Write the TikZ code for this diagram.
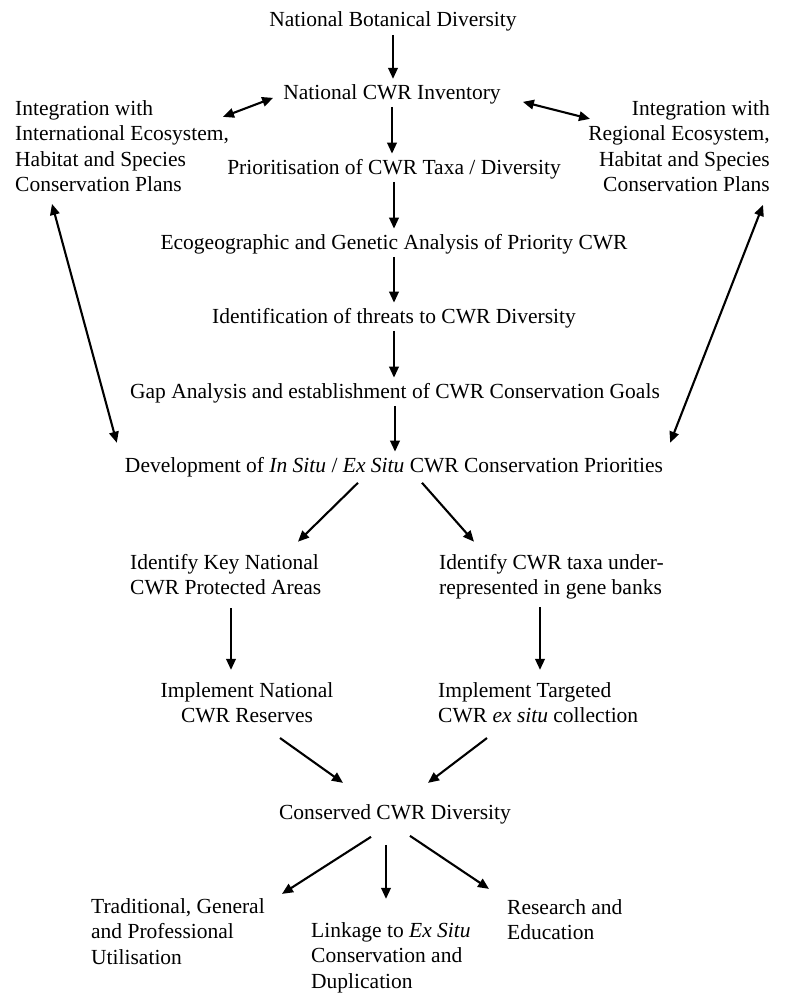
\documentclass[tikz,border=0pt]{standalone}
\usepackage{fontspec}
\setmainfont{Liberation Serif}
\usetikzlibrary{arrows.meta}
\begin{document}
\begin{tikzpicture}[x=1pt,y=-1pt,
  lbl/.style={inner sep=0pt, font=\fontsize{21.5}{25.5}\selectfont},
  arr/.style={line width=2.1pt, -{Triangle[length=11pt,width=9.5pt]}},
  darr/.style={line width=2.1pt, {Triangle[length=11pt,width=9.5pt]}-{Triangle[length=11pt,width=9.5pt]}},
  vstep/.style={arr, shorten <=3pt, shorten >=5pt}]
\useasboundingbox (0,0) rectangle (789,993);

\node[lbl,anchor=base] (nbd) at (393,27) {National Botanical Diversity};
\node[lbl,anchor=base] (inv) at (392,99) {National CWR Inventory};
\node[lbl,anchor=base west,align=left] (intl) at (15,191.5) {Integration with\\International Ecosystem,\\Habitat and Species\\Conservation Plans};
\node[lbl,anchor=base east,align=right] (intr) at (770,191.5) {Integration with\\Regional Ecosystem,\\Habitat and Species\\Conservation Plans};
\node[lbl,anchor=base] (prio) at (394,174) {Prioritisation of CWR Taxa / Diversity};
\node[lbl,anchor=base] (eco) at (394,249) {Ecogeographic and Genetic Analysis of Priority CWR};
\node[lbl,anchor=base] (thr) at (394,323) {Identification of threats to CWR Diversity};
\node[lbl,anchor=base] (gap) at (395,398) {Gap Analysis and establishment of CWR Conservation Goals};
\node[lbl,anchor=base] (dev) at (394,472) {Development of \textit{In Situ} / \textit{Ex Situ} CWR Conservation Priorities};
\node[lbl,anchor=base west,align=left] (ika) at (130,594.5) {Identify Key National\\CWR Protected Areas};
\node[lbl,anchor=base west,align=left] (ict) at (439,594.5) {Identify CWR taxa under-\\represented in gene banks};
\node[lbl,anchor=base,align=center] (imn) at (247,722.5) {Implement National\\CWR Reserves};
\node[lbl,anchor=base west,align=left] (itg) at (438,722.5) {Implement Targeted\\CWR \textit{ex situ} collection};
\node[lbl,anchor=base] (cons) at (395,819) {Conserved CWR Diversity};
\node[lbl,anchor=base west,align=left] (trad) at (91,964) {Traditional, General\\and Professional\\Utilisation};
\node[lbl,anchor=base west,align=left] (link) at (311,988) {Linkage to \textit{Ex Situ}\\Conservation and\\Duplication};
\node[lbl,anchor=base west,align=left] (res) at (507,939.5) {Research and\\Education};

% main chain
\draw[vstep] (nbd.south) -- (nbd.south |- inv.north);
\draw[vstep] (inv.south) -- (inv.south |- prio.north);
\draw[vstep] (prio.south) -- (prio.south |- eco.north);
\draw[vstep] (eco.south) -- (eco.south |- thr.north);
\draw[vstep] (thr.south) -- (thr.south |- gap.north);
\draw[vstep] (gap.south) -- (gap.south |- dev.north);

% integration links
\draw[darr] ([xshift=208pt,yshift=-17pt]intl.north west) -- ([xshift=-10pt,yshift=-4pt]inv.west);
\draw[darr] ([xshift=22pt,yshift=-8pt]inv.east) -- ([xshift=-180pt,yshift=-19pt]intr.north east);
\draw[darr] ([xshift=37pt,yshift=-12pt]intl.south west) -- ([xshift=-8pt,yshift=24pt]dev.west);
\draw[darr] ([xshift=-7pt,yshift=-13pt]intr.south east) -- ([xshift=7pt,yshift=24pt]dev.east);

% branches
\draw[arr] ([xshift=-36pt,yshift=-6pt]dev.south) -- ([xshift=168pt,yshift=12pt]ika.north west);
\draw[arr] ([xshift=28pt,yshift=-6pt]dev.south) -- ([xshift=35pt,yshift=12pt]ict.north west);
\draw[arr] ([xshift=101pt,yshift=-13pt]ika.south west) -- ([xshift=-16pt,yshift=12pt]imn.north);
\draw[arr] ([xshift=101pt,yshift=-8pt]ict.south west) -- ([xshift=102pt,yshift=12pt]itg.north west);
\draw[arr] ([xshift=33pt,yshift=-15pt]imn.south) -- ([xshift=-52pt,yshift=21pt]cons.north);
\draw[arr] ([xshift=49pt,yshift=-15pt]itg.south west) -- ([xshift=33pt,yshift=21pt]cons.north);

% outcomes
\draw[arr] ([xshift=-24pt,yshift=-13pt]cons.south) -- ([xshift=191pt,yshift=4pt]trad.north west);
\draw[arr] ([xshift=-9pt,yshift=-21pt]cons.south) -- ([xshift=75pt,yshift=23pt]link.north west);
\draw[arr] ([xshift=15pt,yshift=-12pt]cons.south) -- ([xshift=-18pt,yshift=10pt]res.north west);
\end{tikzpicture}
\end{document}
